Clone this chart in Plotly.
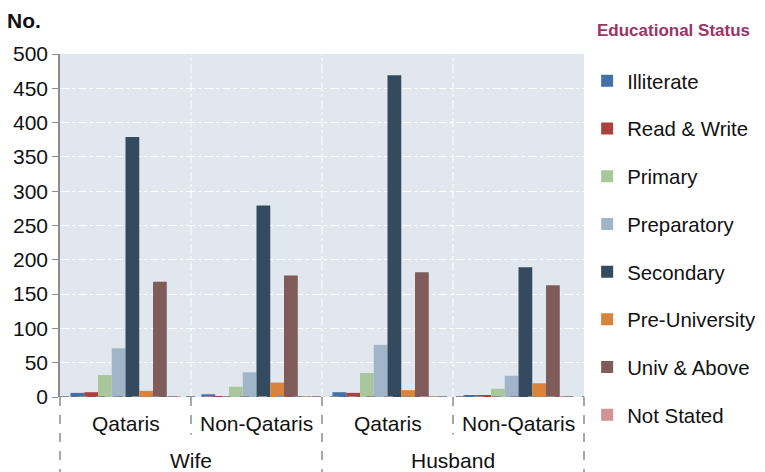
import plotly.graph_objects as go

# ---- data ----
outer_groups = ["Wife", "Wife", "Husband", "Husband"]
inner_groups = ["Qataris", "Non-Qataris", "Qataris", "Non-Qataris"]
outer_labels = ["Wife", "Husband"]

series_names = ["Illiterate", "Read & Write", "Primary", "Preparatory",
                "Secondary", "Pre-University", "Univ & Above", "Not Stated"]
illiterate     = [6, 4, 7, 2]
read_write     = [7, 1, 6, 2]
primary        = [32, 15, 35, 12]
preparatory    = [71, 36, 76, 31]
secondary      = [379, 279, 469, 189]
pre_university = [9, 21, 10, 20]
univ_above     = [168, 177, 182, 163]
not_stated     = [1, 1, 1, 1]
series_values = [illiterate, read_write, primary, preparatory,
                 secondary, pre_university, univ_above, not_stated]

y_ticks = [0, 50, 100, 150, 200, 250, 300, 350, 400, 450, 500]

colors = ["#4271A6", "#A8423F", "#A9C69C", "#A1B5C9",
          "#344A5F", "#DA843B", "#7F5C5A", "#D09593"]

FONT = "Liberation Sans, Arial, sans-serif"
FS = 21
x_cats = [f"{o} {i}" for o, i in zip(outer_groups, inner_groups)]

fig = go.Figure()
for name, vals, col in zip(series_names, series_values, colors):
    fig.add_trace(go.Bar(
        x=x_cats, y=vals, name=name, legendgroup=name,
        marker=dict(color=col, line=dict(width=0)),
    ))

# page body has an 8px default margin; the figure is offset accordingly
fig.update_layout(
    width=757, height=464,
    margin=dict(l=52, r=181, t=46, b=75, autoexpand=False),
    paper_bgcolor="white", plot_bgcolor="#E0E7EE",
    barmode="group", bargap=0.16, bargroupgap=0,
    font=dict(family=FONT, size=FS, color="#111"),
    legend=dict(
        x=1.006, xanchor="left", xref="paper",
        y=0.8858, yanchor="top", yref="container",
        traceorder="grouped", tracegroupgap=18.2, maxheight=1,
        font=dict(family=FONT, size=20.4, color="#111"),
        bgcolor="rgba(0,0,0,0)",
    ),
    xaxis=dict(showticklabels=False, showgrid=False, ticks="",
               showline=False, zeroline=False, fixedrange=True),
    yaxis=dict(range=[0, 500], tickvals=y_ticks, showgrid=True,
               gridcolor="white", griddash="dashdot", gridwidth=1,
               showline=True, linecolor="#8C8C8C", linewidth=1.5,
               ticks="outside", ticklen=6, tickcolor="#8C8C8C",
               zeroline=False, tickfont=dict(size=FS, color="#111")),
)

# vertical gridlines between groups (white dash-dot)
for xd in [0.25, 0.5, 0.75]:
    fig.add_shape(type="line", xref="x domain", yref="y domain",
                  x0=xd, x1=xd, y0=0, y1=1,
                  line=dict(color="white", width=1, dash="dashdot"),
                  layer="below")

# dashed baseline
fig.add_shape(type="line", xref="x domain", yref="y", x0=0, x1=1, y0=0, y1=0,
              line=dict(color="#8C8C8C", width=2, dash="dash"), layer="above")

# dashed dividers below axis
for xd, y1 in [(0, -0.23), (0.25, -0.11), (0.5, -0.23), (0.75, -0.11), (1, -0.23)]:
    fig.add_shape(type="line", xref="x domain", yref="y domain",
                  x0=xd, x1=xd, y0=0, y1=y1,
                  line=dict(color="#8C8C8C", width=1.5, dash="dash"))

# category labels
for k, lab in enumerate(inner_groups):
    fig.add_annotation(text=lab, xref="x domain", yref="y domain",
                       x=(k + 0.5) / 4, xanchor="center", y=0, yanchor="middle",
                       yshift=-26, showarrow=False,
                       font=dict(size=FS, color="#111"))
for k, lab in enumerate(outer_labels):
    fig.add_annotation(text=lab, xref="x domain", yref="y domain",
                       x=(k + 0.5) / 2, xanchor="center", y=0, yanchor="middle",
                       yshift=-63, showarrow=False,
                       font=dict(size=FS, color="#111"))

# axis title "No."
fig.add_annotation(text="<b>No.</b>", xref="paper", yref="paper",
                   x=-0.105, xanchor="left", y=1, yanchor="middle", yshift=34,
                   showarrow=False, font=dict(size=FS, color="#111"))

# legend title
fig.add_annotation(text="<b>Educational Status</b>", xref="paper", yref="paper",
                   x=1.021, xanchor="left", y=1, yanchor="middle", yshift=24,
                   showarrow=False,
                   font=dict(family=FONT, size=17, color="#9C3366"))

fig.write_html("out.html")
